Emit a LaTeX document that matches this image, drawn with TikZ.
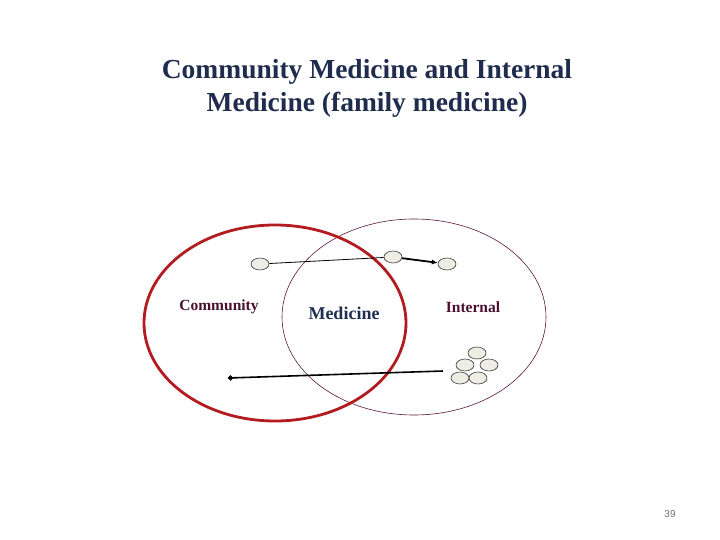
\documentclass[tikz,border=0pt]{standalone}
\usepackage{fontspec}
\setmainfont{Liberation Serif}
\setsansfont{Liberation Sans}
\usepackage{xcolor}
\usepackage{tikz}
\usetikzlibrary{calc,arrows.meta,positioning,shapes.geometric}
\definecolor{titleNavy}{RGB}{31,44,78}
\definecolor{ringRed}{RGB}{178,28,32}
\definecolor{ringPurple}{RGB}{92,22,62}
\definecolor{labelMaroon}{RGB}{74,16,48}
\definecolor{labelNavy}{RGB}{30,46,78}
\definecolor{blobFill}{RGB}{238,237,227}
\definecolor{blobLine}{RGB}{60,60,60}
\definecolor{pageGray}{RGB}{110,110,110}

\tikzset{
  blob/.style={ellipse, draw=blobLine, fill=blobFill, line width=0.6pt,
    minimum width=18pt, minimum height=12pt, inner sep=0pt},
  link/.style={black, line width=1pt},
  fieldlabel/.style={text=labelMaroon, font=\fontsize{15.5}{18}\selectfont\bfseries}
}

\begin{document}
\begin{tikzpicture}[x=1pt, y=-1pt]
\useasboundingbox (0,0) rectangle (720,540);

% title
\node[text=titleNavy, align=center, font=\fontsize{27.5}{33}\selectfont\bfseries] (title) at (367,88)
  {Community Medicine and Internal\\Medicine (family medicine)};

% the two fields
\draw[ringPurple, line width=0.6pt] (414,317) ellipse [x radius=132, y radius=98];
\draw[ringRed, line width=2.8pt] (275,323) ellipse [x radius=131, y radius=98];

\node[fieldlabel] (community) at (219,307) {Community};
\node[text=labelNavy, font=\fontsize{18}{20}\selectfont\bfseries] (medicine) at (344,313) {Medicine};
\node[fieldlabel] (internal) at (473,307) {Internal};

% patients moving between fields
\node[blob] (pA) at (260,264) {};
\node[blob] (pB) at (393,257) {};
\node[blob] (pC) at (447,264) {};
\draw[link, line width=0.8pt] (pA) -- (pB);
\draw[link, line width=1.8pt, -{Latex[length=6pt,width=5pt]}] (pB) -- (pC);

\node[blob] (g1) at (477,353) {};
\node[blob] (g2) at (465,365) {};
\node[blob] (g3) at (489,365) {};
\node[blob] (g4) at (460,378) {};
\node[blob] (g5) at (478,378) {};
\coordinate (gStart) at (443,371);
\coordinate (gEnd) at (228,378);
\draw[link, line width=1.6pt, -{Circle[length=5pt]}] (gStart) -- (gEnd);

% page number
\node[text=pageGray, font=\sffamily\fontsize{10}{12}\selectfont] (pagenum) at (670,514) {39};
\end{tikzpicture}
\end{document}
